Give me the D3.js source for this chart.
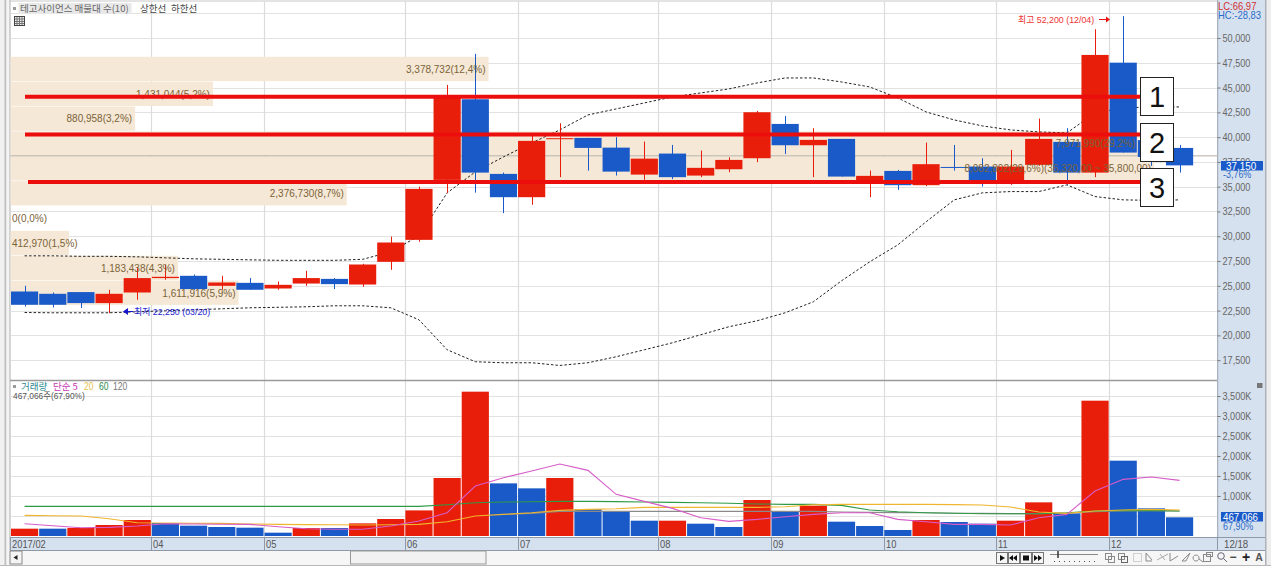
<!DOCTYPE html>
<html><head><meta charset="utf-8">
<script src="https://cdn.jsdelivr.net/npm/d3@7"></script>
<style>
html,body{margin:0;padding:0;background:#fff;overflow:hidden}
svg{display:block}
text{font-family:"Liberation Sans","Noto Sans CJK KR",sans-serif;font-size:10.5px}
</style></head><body>
<svg id="c" width="1271" height="566"></svg>
<script>
// ---------- data ----------
const opens  = [24427,24195,24367,23258,24326,25780,26010,25000,25300,24730,25230,25700,25130,27420,29637,35686,43820,36290,33940,39800,39920,38940,36220,38340,36120,36760,37870,41330,39180,39820,35480,36590,35150,36990,37030,35510,37200,39520,36420,47510,39700,38910];
const highs  = [25000,24326,24367,24600,26785,27120,26140,26010,25780,25435,26510,25780,27220,29970,35000,45260,48400,36420,40220,41400,39920,39990,39550,39210,38640,37970,42640,42140,40900,39820,36620,36690,39450,39210,37870,38710,41870,40900,50880,52200,39900,39210];
const lows   = [22915,22815,22755,22250,23590,25610,24600,24600,24600,24600,25000,24670,24900,26615,29440,34376,34400,32330,33170,35960,36620,36120,35690,35760,35960,36460,37470,38300,35960,36020,33940,34680,35050,36620,35010,35180,37100,35180,35960,38440,37100,36420];
const closes = [23086,23086,23258,24195,25780,25909,24670,25335,24600,25100,25780,25170,27150,29370,34780,44150,36420,33940,39620,39890,38910,36520,37830,35960,36900,37700,42510,39180,39720,36020,36090,35150,37270,36950,35660,37030,39820,36420,48290,38440,38000,37150];
const upperBand = [28026,28026,27975,27975,27925,27824,27723,27672,27622,27572,27572,27572,27672,28429,30042,34376,36493,38005,39416,40726,42238,42843,43448,44053,44456,44859,45464,45968,45968,45565,45061,43952,42541,41734,41130,40726,40525,40424,42440,42944,43045,43045];
const lowerBand = [22310,22280,22280,22280,22381,22482,22582,22683,22784,22834,22885,22986,22986,22784,21574,18550,17341,17240,17240,16967,17240,17845,18550,19256,20062,20869,21474,22280,23389,25506,27421,29134,31453,33670,34376,34507,34507,35182,34003,33670,33620,33670];
const volumes = [183,183,200,275,400,325,258,225,208,83,200,200,316,425,640,1450,3608,1316,1191,1450,666,616,383,383,308,225,900,616,758,358,250,150,400,350,308,383,841,566,3383,1883,691,467];
const volumeUp = [1,0,1,1,1,0,0,0,0,0,1,0,1,1,1,1,1,0,0,1,0,0,0,1,0,0,1,0,1,0,0,0,1,0,0,1,1,0,1,0,0,0];
const ma5  = [308,258,208,215,250,308,300,295,291,233,183,170,167,250,375,583,1250,1458,1625,1800,1641,1041,866,691,458,366,416,483,541,583,583,416,358,291,291,275,458,541,1125,1416,1475,1391];
const ma20 = [516,508,500,433,333,325,320,316,300,291,285,280,275,280,291,358,500,541,583,641,666,683,716,716,716,716,716,733,783,791,791,791,791,785,775,725,600,566,625,650,666,650];
const ma60 = [741,741,741,741,741,741,741,741,741,741,741,741,741,741,741,783,833,850,858,866,866,860,850,841,833,820,800,791,791,766,650,608,583,570,558,558,558,583,625,641,635,625];
const ma120 = [null,null,null,null,null,null,null,null,null,null,null,null,null,null,null,null,null,541,566,616,616,616,616,616,616,616,616,616,616,600,590,585,580,570,565,560,560,575,610,625,630,625];
const bandVolumes = [3378732,1431044,880958,7971990,8082802,2376730,0,412970,1183438,1611916];
const bandLabels = ["3,378,732(12,4%)","1,431,044(5,2%)","880,958(3,2%)","7,971,990(29,2%)","8,082,802(29,6%)(36,320,00 ~ 35,800,00)","2,376,730(8,7%)","0(0,0%)","412,970(1,5%)","1,183,438(4,3%)","1,611,916(5,9%)"];
const bandTop = 48100, bandBottom = 23015;
const supportLines = [44083,40273,35485];
const supportNames = ["1","2","3"];
const refPrice = 38110;
const priceTicks = [17500,20000,22500,25000,27500,30000,32500,35000,37500,40000,42500,45000,47500,50000,52500];
const volumeTicks = [500,1000,1500,2000,2500,3000,3500];
const monthIndex = [0,5,9,14,18,23,27,31,35,39];
const monthLabels = ["2017/02","04","05","06","07","08","09","10","11","12"];

// ---------- colours / scales ----------
const RED="#E81E0A", BLUE="#1A5AC8", BEIGE="#F5E8D6", PANEL="#D6E1EF", GRID="#E2E2E2";
const n = opens.length, idx = d3.range(n);
const L=10.5, R=1217.5;
const x = d3.scaleBand().domain(idx).range([L, L+n*28.17]).paddingInner(0.035).paddingOuter(0.0175);
const cx = i => x(i)+x.bandwidth()/2;
const y = d3.scaleLinear().domain([15500,53730]).range([380,1]);
const yv = d3.scaleLinear().domain([0,3500]).range([536,396]);
const bw = d3.scaleLinear().domain([0,d3.max(bandVolumes)]).range([0,1143.5]);
const bandY = d3.scaleBand().domain(d3.range(bandVolumes.length)).range([y(bandTop),y(bandBottom)]);
const svg = d3.select("#c");
const rect=(g,a,b,w,h,f,s)=>g.append("rect").attr("x",a).attr("y",b).attr("width",w).attr("height",h).attr("fill",f).attr("stroke",s||"none");
const hl=(g,a,b,c,d,s,w)=>g.append("line").attr("x1",a).attr("y1",b).attr("x2",c).attr("y2",d).attr("stroke",s).attr("stroke-width",w||1);
const txt=(g,a,b,t,f,anchor)=>g.append("text").attr("x",a).attr("y",b).text(t).attr("fill",f||"#444").attr("text-anchor",anchor||"start");
// squeezes a text horizontally to the narrow bitmap-like look of the original
const squeeze=(sel,k)=>sel.each(function(){this.setAttribute("lengthAdjust","spacingAndGlyphs");
  this.setAttribute("textLength",(this.getComputedTextLength()*k).toFixed(1));});

// ---------- window frame ----------
rect(svg,0,0,1271,566,"#fff");
rect(svg,0,0,5.5,566,"#F1F1F1"); rect(svg,4.5,0,2,566,"#BFBFBF"); rect(svg,6.5,0,3.5,566,"#F4F4F4");
hl(svg,10,1,1217,1,"#C8C8C8");
hl(svg,10,0,10,550,"#B0B0B0");

// ---------- grid ----------
const grid = svg.append("g");
priceTicks.forEach(t=>hl(grid,L,Math.round(y(t))+.5,R,Math.round(y(t))+.5,GRID,1.2));
volumeTicks.forEach(t=>hl(grid,L,Math.round(yv(t))+.5,R,Math.round(yv(t))+.5,GRID,1.2));
monthIndex.slice(1).forEach(i=>{const p=Math.round(x(i)-.5)+.5;
  hl(grid,p,1,p,537,"#DCDCDC",1.2);});

// ---------- volume-by-price bands ----------
svg.append("g").selectAll("rect").data(bandVolumes).join("rect")
  .attr("x",L).attr("y",(d,i)=>bandY(i)).attr("height",bandY.bandwidth()-.6)
  .attr("width",d=>bw(d)).attr("fill",BEIGE);
hl(svg,L,y(refPrice),R,y(refPrice),"#B4ADA3");
hl(svg,10,380.5,1217,380.5,"#9A9A9A",1.4);

// ---------- envelope lines ----------
const line = d3.line().defined(d=>d!=null).x((d,i)=>cx(i));
[upperBand,lowerBand].forEach(s=>svg.append("path").datum(s)
  .attr("d",line.y(d=>y(d))).attr("fill","none").attr("stroke","#222").attr("stroke-width",1).attr("stroke-dasharray","2.5,2"));

// ---------- candles ----------
const col = i=>closes[i]>=opens[i]?RED:BLUE;
const cg = svg.append("g").selectAll("g").data(idx).join("g");
cg.append("line").attr("x1",i=>Math.round(cx(i))+.5).attr("x2",i=>Math.round(cx(i))+.5)
  .attr("y1",i=>y(highs[i])).attr("y2",i=>y(lows[i])).attr("stroke",col);
cg.append("rect").attr("x",i=>x(i)).attr("width",x.bandwidth())
  .attr("y",i=>y(Math.max(opens[i],closes[i])))
  .attr("height",i=>Math.max(1,Math.abs(y(opens[i])-y(closes[i])))).attr("fill",col);

// ---------- band labels: right-aligned in the bar, or from the left edge when the bar is too short ----------
svg.append("g").selectAll("text").data(bandLabels).join("text")
  .attr("y",(d,i)=>bandY(i)+bandY.bandwidth()/2+3.5)
  .attr("fill","#7B6338").style("font-size","10px").text(d=>d)
  .each(function(d,i){
    const w=this.getComputedTextLength(), end=L+bw(bandVolumes[i])-3;
    const left = w+4 > bw(bandVolumes[i]);
    d3.select(this).attr("x",left?12:end).attr("text-anchor",left?"start":"end");
  });

// ---------- support/resistance lines + numbered boxes ----------
supportLines.forEach((p,i)=>{
  hl(svg,i==2?28:25,y(p),1142,y(p),"#EC0D0D",4);
  const by=[77,123,168][i];
  rect(svg,1140.5,by+.5,33,38,"#fff","#222");
  svg.append("text").attr("x",1157).attr("y",by+30).attr("text-anchor","middle")
    .attr("fill","#111").style("font-size","29px").text(supportNames[i]);
});

// ---------- high/low callouts ----------
svg.append("text").attr("x",1018).attr("y",23).attr("fill","#E33").style("font-size","9.5px").text("최고 52,200 (12/04)").call(squeeze,.93);
hl(svg,1099,19.5,1107,19.5,"#E11",1);
svg.append("path").attr("d","M1106,16.5L1110,19.5L1106,22.5Z").attr("fill","#E11");
svg.append("path").attr("d","M123,311.5L128,308L128,315Z").attr("fill","#1616C8");
hl(svg,127,311.5,133,311.5,"#1616C8");
svg.append("text").attr("x",134).attr("y",315).attr("fill","#2424D0").style("font-size","9.5px").text("최저 22,250 (03/20)").call(squeeze,.93);

// ---------- volume bars ----------
svg.append("g").selectAll("rect").data(idx).join("rect")
  .attr("x",i=>x(i)).attr("width",x.bandwidth())
  .attr("y",i=>yv(volumes[i])).attr("height",i=>yv(0)-yv(volumes[i]))
  .attr("fill",i=>volumeUp[i]?RED:BLUE);
[[ma120,"#8A8A8A"],[ma60,"#2E9A46"],[ma20,"#F0B52E"],[ma5,"#D85CC8"]].forEach(([s,c])=>
  svg.append("path").datum(s).attr("d",line.y(d=>yv(d))).attr("fill","none").attr("stroke",c).attr("stroke-width",1.1));

// ---------- right panel & axes ----------
rect(svg,R,0,47.5,538,PANEL);
rect(svg,1265,0,6,566,"#EDEDED"); rect(svg,1265,0,1.5,566,"#AEB2B8");
hl(svg,R+.2,0,R+.2,538,"#9AA3AE");
const fmt=d3.format(",");
const pa = svg.append("g").attr("transform",`translate(${R},0)`)
  .call(d3.axisRight(y).tickValues(priceTicks.filter(t=>t<52000)).tickFormat(fmt).tickSize(3).tickPadding(2));
const va = svg.append("g").attr("transform",`translate(${R},0)`)
  .call(d3.axisRight(yv).tickValues(volumeTicks.slice(1)).tickFormat(d=>fmt(d)+"K").tickSize(3).tickPadding(2));
[pa,va].forEach(a=>{a.select(".domain").remove();a.selectAll("line").attr("stroke","#777");
  a.selectAll("text").attr("fill","#666").style("font-size","11px").call(squeeze,.83);});
txt(svg,1218,10,"LC:66,97","#D23030").style("font-size","11px").call(squeeze,.86);
txt(svg,1218,19,"HC:-28,83","#2A6BC8").style("font-size","11px").call(squeeze,.86);
rect(svg,1221,161,42,9.5,BLUE);
txt(svg,1226,169.5,"37,150","#fff").style("font-size","11px").call(squeeze,.9);
txt(svg,1223,178,"-3,76%","#2A6BC8").style("font-size","10.5px").call(squeeze,.85);
rect(svg,1221,512,42,9.5,BLUE);
txt(svg,1223,520.5,"467,066","#fff").style("font-size","11px").call(squeeze,.88);
txt(svg,1223,529.5,"67,90%","#2A6BC8").style("font-size","10.5px").call(squeeze,.85);
rect(svg,1257,383,5.5,5,"#777");

// ---------- date axis ----------
rect(svg,10,538,1207.5,12,PANEL); rect(svg,R,538,47.5,12,PANEL);
hl(svg,10,537.5,1265,537.5,"#8E98A6"); hl(svg,10,550.5,1265,550.5,"#8E98A6"); hl(svg,R,538,R,550,"#8E98A6");
monthIndex.forEach((i,k)=>{const p=Math.round(x(i)-.5)+.5;
  hl(svg,p,538,p,550,"#8E98A6");
  txt(svg,k==0?12:p+1.5,547.5,monthLabels[k],"#555").style("font-size","11px").call(squeeze,.85);});
txt(svg,1224,547.5,"12/18","#555").style("font-size","11px").call(squeeze,.88);

// ---------- scrollbar & toolbar ----------
rect(svg,10,551,1255,14,"#F6F6F6");
rect(svg,10,551,12,13,"#F4F4F4","#888");
svg.append("path").attr("d","M17.5,555L13.5,557.5L17.5,560Z").attr("fill","#222");
rect(svg,350.5,551,135.5,13,"#F2F2F2","#999");
hl(svg,0,565.5,1271,565.5,"#B8B8B8");
[997,1009,1021,1033].forEach((p,i)=>{rect(svg,p-.5,552.5,11,11,"#F6F6F6","#777");
  svg.append("path").attr("d",["M1000,555L1005,558L1000,561Z","M1017,555L1013,558L1017,561ZM1013,555L1009,558L1013,561Z","M1023,555.5H1029V560.5H1023Z","M1034,555L1038,558L1034,561ZM1038,555L1042,558L1038,561Z"][i]).attr("fill","#111");});
hl(svg,1050,554.5,1098,554.5,"#888"); hl(svg,1058,551,1058,558,"#333",1.5);
hl(svg,1054,561.5,1098,561.5,"#555").attr("stroke-dasharray","1,4");
// small tool icons
const tb=svg.append("g").attr("fill","none").attr("stroke","#8A8A8A");
rect(tb,1105.5,553.5,6,6,"none","#8A8A8A"); rect(tb,1108.5,556.5,6,6,"none","#8A8A8A");
rect(tb,1118.5,553.5,6,6,"none","#8A8A8A"); rect(tb,1121.5,556.5,6,6,"none","#666");
rect(tb,1133.5,553.5,8,8,"none","#AAA").attr("stroke-dasharray","1,1");
tb.append("path").attr("d","M1146,553V561H1152M1146,553L1152,560");
tb.append("path").attr("d","M1157,560L1168,554M1160,554L1165,560").attr("stroke","#AAA");
tb.append("path").attr("d","M1170,553V561M1170,561L1178,556");
tb.append("path").attr("d","M1182,561L1190,553L1186,561Z");
tb.append("path").attr("d","M1196,555a3,3 0 1,0 .1,0M1199,559L1203,562");
rect(tb,1203.5,554.5,7,7,"none","#8A8A8A"); rect(tb,1206.5,552.5,6,4,"none","#8A8A8A");
svg.append("circle").attr("cx",1221).attr("cy",556).attr("r",3.3).attr("fill","none").attr("stroke","#667");
hl(svg,1223.5,558.5,1227,562,"#667");
txt(svg,1233,561,"−","#444","middle").style("font-size","12px").style("font-weight","bold");
txt(svg,1246,562,"+","#222","middle").style("font-size","14px").style("font-weight","bold");
txt(svg,1259,561,"A","#555","middle").style("font-size","10.5px").style("font-weight","bold");

// ---------- titles ----------
rect(svg,18.5,3,113,11,"#E8E8E8");
rect(svg,13,7,3,3,"#999");
const kr='"Noto Sans CJK KR",sans-serif';
txt(svg,20,12,"테고사이언스 매물대 수(10)","#666").style("font-size","9.5px").style("font-family",kr);
txt(svg,140,12,"상한선","#444").style("font-size","9.5px").style("font-family",kr);
txt(svg,171,12,"하한선","#444").style("font-size","9.5px").style("font-family",kr);
const ic=svg.append("g");
rect(ic,14.5,16.5,10,9,"#EDEDED","#444");
[17,19.5,22].forEach(p=>hl(ic,p,17,p,25,"#777"));[19,21.5,23.5].forEach(p=>hl(ic,15,p,24,p,"#777"));
rect(svg,13,385,3,3,"#999");
txt(svg,21,390,"거래량","#2E8A92").style("font-size","9.5px").style("font-family",kr);
txt(svg,53,390,"단순 5","#C83AB4").style("font-size","9.5px").style("font-family",kr);
txt(svg,84,390,"20","#E8C050").style("font-size","10px").call(squeeze,.85);
txt(svg,99,390,"60","#2E8A4A").style("font-size","10px").call(squeeze,.85);
txt(svg,113,390,"120","#777").style("font-size","10px").call(squeeze,.85);
txt(svg,13,399,"467,066주(67,90%)","#555").style("font-size","9.5px").call(squeeze,.88);
</script>
</body></html>
